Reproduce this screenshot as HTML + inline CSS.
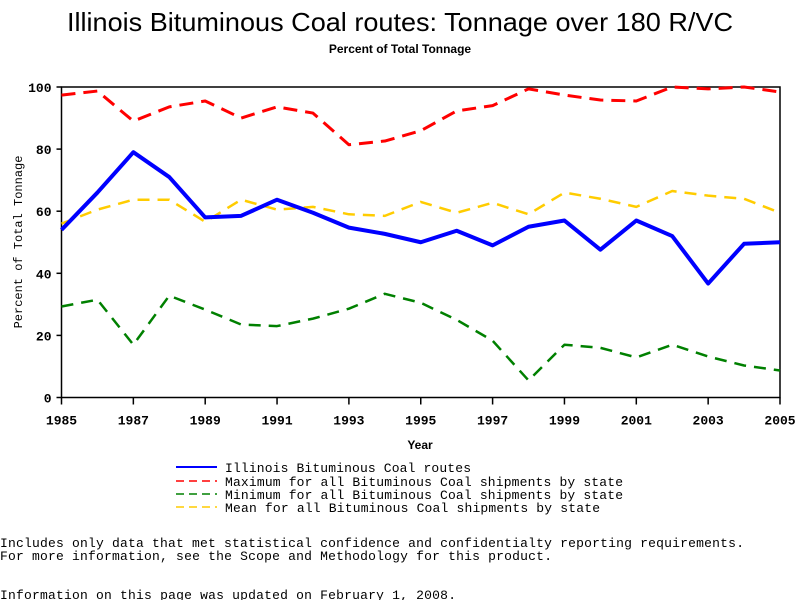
<!DOCTYPE html>
<html><head><meta charset="utf-8"><style>
body{margin:0;background:#fff;}
svg text{font-family:"Liberation Mono",monospace;}
</style></head><body>
<svg width="800" height="600" xmlns="http://www.w3.org/2000/svg">
<text x="400" y="31" text-anchor="middle" font-size="26" textLength="666" lengthAdjust="spacingAndGlyphs" style="font-family:'Liberation Sans',sans-serif">Illinois Bituminous Coal routes: Tonnage over 180 R/VC</text>
<text x="400" y="53" text-anchor="middle" font-size="12" font-weight="bold" style="font-family:'Liberation Sans',sans-serif">Percent of Total Tonnage</text>
<g id="plot"></g>
<text x="420" y="449" text-anchor="middle" font-size="12" font-weight="bold" style="font-family:'Liberation Sans',sans-serif">Year</text>
<text transform="translate(22,242) rotate(-90)" text-anchor="middle" font-size="12">Percent of Total Tonnage</text>
<g font-size="13">
<line x1="176" y1="467" x2="217" y2="467" stroke="#0000ff" stroke-width="2"/>
<text x="225" y="472" textLength="246">Illinois Bituminous Coal routes</text>
<line x1="176" y1="481" x2="217" y2="481" stroke="#ff0000" stroke-width="1.5" stroke-dasharray="8,5"/>
<text x="225" y="486" textLength="398">Maximum for all Bituminous Coal shipments by state</text>
<line x1="176" y1="494" x2="217" y2="494" stroke="#008000" stroke-width="1.5" stroke-dasharray="8,5"/>
<text x="225" y="499" textLength="398">Minimum for all Bituminous Coal shipments by state</text>
<line x1="176" y1="507" x2="217" y2="507" stroke="#ffcc00" stroke-width="1.5" stroke-dasharray="8,5"/>
<text x="225" y="512" textLength="375">Mean for all Bituminous Coal shipments by state</text>
</g>
<g font-size="13">
<text x="0" y="547" textLength="744">Includes only data that met statistical confidence and confidentialty reporting requirements.</text>
<text x="0" y="560" textLength="552">For more information, see the Scope and Methodology for this product.</text>
<text x="0" y="599" textLength="456">Information on this page was updated on February 1, 2008.</text>
</g>
</svg>
<script>
const years=[1985,1986,1987,1988,1989,1990,1991,1992,1993,1994,1995,1996,1997,1998,1999,2000,2001,2002,2003,2004,2005];
const illinois=[54,66,79,71,58,58.5,63.7,59.5,54.7,52.7,50,53.7,49,55,57,47.6,57,52,36.7,49.5,50];
const maxVals=[97.4,98.7,89,93.6,95.5,90,93.6,91.6,81.4,82.6,85.9,92.3,94,99.4,97.4,95.8,95.5,100,99.4,100,98.4];
const minVals=[29.3,31.5,17,32.8,28.3,23.5,23,25.4,28.6,33.4,30.5,25,18.3,5.5,17,16,12.9,17,13.2,10.3,8.7];
const meanVals=[56,60.5,63.7,63.7,56.6,63.7,60.5,61.4,59,58.5,63,59.5,62.7,59,66,64,61.4,66.5,65,64,59.5];
const yTicks=[0,20,40,60,80,100];
const xTicks=[1985,1987,1989,1991,1993,1995,1997,1999,2001,2003,2005];
const L=61.5,R=780,T=87,B=397.5;
const xs=y=>L+(y-1985)/(2005-1985)*(R-L);
const ys=v=>B-v/100*(B-T);
const NS="http://www.w3.org/2000/svg";
const g=document.getElementById('plot');
function mk(t,a){const e=document.createElementNS(NS,t);for(const k in a)e.setAttribute(k,a[k]);g.appendChild(e);return e;}
const frame=mk('rect',{x:L,y:T,width:R-L,height:B-T,fill:'none',stroke:'#000','stroke-width':1.5});


yTicks.forEach(v=>{
 const l=mk('line',{x1:L-5,x2:L,y1:ys(v),y2:ys(v),stroke:'#000','stroke-width':1.5});
 
 
 const t=mk('text',{x:L-10,y:ys(v)+5,'text-anchor':'end','font-size':13,'font-weight':'bold'});
 t.textContent=v;
 
 
});
xTicks.forEach(v=>{
 const l=mk('line',{x1:xs(v),x2:xs(v),y1:B,y2:B+7,stroke:'#000','stroke-width':1.5});
 
 
 const t=mk('text',{x:xs(v),y:B+27,'text-anchor':'middle','font-size':13,'font-weight':'bold'});
 t.textContent=v;
 
 
});
function series(vals,color,w,dash,name){
 const p=mk('polyline',{points:vals.map((v,i)=>xs(years[i])+','+ys(v)).join(' '),fill:'none',stroke:color,'stroke-width':w,'stroke-linejoin':'round'});
 if(dash)p.setAttribute('stroke-dasharray',dash);
 
 
}
series(maxVals,'#ff0000',3,'14,8','max-line');
series(minVals,'#008000',2.5,'12,8','min-line');
series(meanVals,'#ffcc00',2.5,'12,8','mean-line');
series(illinois,'#0000ff',4,null,'illinois-line');
</script>
</body></html>
